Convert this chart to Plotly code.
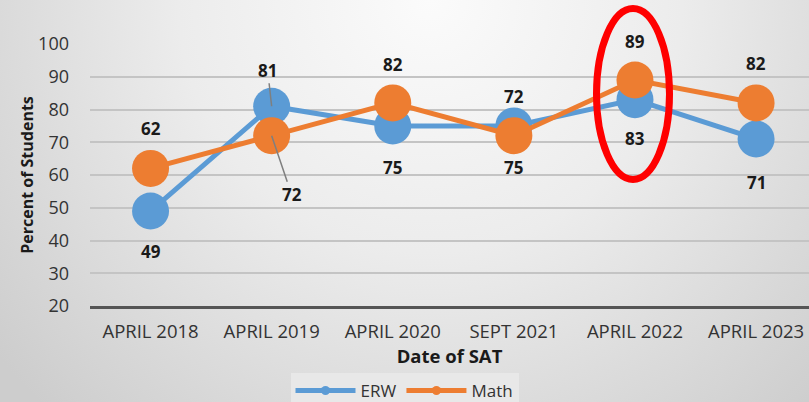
import base64
import plotly.graph_objects as go

categories = ["APRIL 2018", "APRIL 2019", "APRIL 2020", "SEPT 2021", "APRIL 2022", "APRIL 2023"]
erw = [49, 81, 75, 75, 83, 71]
math_vals = [62, 72, 82, 72, 89, 82]
erw_labels = ["49", "81", "75", "75", "83", "71"]
math_labels = ["62", "72", "82", "72", "89", "82"]
y_ticks = [20, 30, 40, 50, 60, 70, 80, 90, 100]

BLUE = "#5B9BD5"
ORANGE = "#ED7D31"
FONT = "Open Sans"

W, H = 809, 402
L, T, B = 90, 44, 96
PW, PH = W - L, H - T - B

svg = f'''<svg xmlns="http://www.w3.org/2000/svg" width="{W}" height="{H}" viewBox="0 0 {W} {H}">
<defs><radialGradient id="g" cx="430" cy="0" r="560" gradientUnits="userSpaceOnUse">
<stop offset="0" stop-color="#fbfbfb"/><stop offset="0.45" stop-color="#ececec"/>
<stop offset="1" stop-color="#cdcdcd"/></radialGradient></defs>
<rect width="{W}" height="{H}" fill="url(#g)"/></svg>'''
src = "data:image/svg+xml;base64," + base64.b64encode(svg.encode()).decode()

fig = go.Figure()
fig.add_trace(go.Scatter(x=categories, y=erw, name="ERW", mode="lines+markers", showlegend=False,
                         line=dict(color=BLUE, width=5), marker=dict(size=37, color=BLUE)))
fig.add_trace(go.Scatter(x=categories, y=math_vals, name="Math", mode="lines+markers", showlegend=False,
                         line=dict(color=ORANGE, width=5), marker=dict(size=37, color=ORANGE)))
for name, col in (("ERW", BLUE), ("Math", ORANGE)):
    fig.add_trace(go.Scatter(x=[None], y=[None], name=name, mode="lines+markers",
                             line=dict(color=col, width=5), marker=dict(size=9, color=col)))

lab_font = dict(family=FONT, size=17, color="#1a1a1a", weight="bold")
erw_off = [(0, 40), (-4, -36), (0, 42), (0, 42), (0, 39), (0, 44)]
math_off = [(0, -40), (20, 59), (0, -38), (0, -39), (0, -39), (0, -39)]
for vals, labels, offs in ((erw, erw_labels, erw_off), (math_vals, math_labels, math_off)):
    for i, (c, v, t) in enumerate(zip(categories, vals, labels)):
        dx, dy = offs[i]
        if i == 1:
            fig.add_annotation(x=c, y=v, text=t, showarrow=True, arrowhead=0, arrowwidth=1.5,
                               arrowcolor="#7f7f7f", ax=dx, ay=dy, standoff=0, font=lab_font)
        else:
            fig.add_annotation(x=c, y=v, text=t, showarrow=False, xshift=dx, yshift=-dy,
                               font=lab_font)

fig.add_shape(type="circle", xref="paper", yref="paper",
              x0=(596.5 - L) / PW, x1=(669.5 - L) / PW,
              y0=(H - B - 179.5) / PH, y1=(H - B - 8.5) / PH,
              line=dict(color="#FF0000", width=7), layer="above")

fig.add_layout_image(dict(source=src, xref="paper", yref="paper", x=-L / PW, y=1 + T / PH,
                          sizex=W / PW, sizey=H / PH, sizing="stretch",
                          xanchor="left", yanchor="top", layer="below"))

fig.update_layout(
    width=W, height=H,
    margin=dict(l=L, r=0, t=T, b=B, autoexpand=False),
    paper_bgcolor="#e3e3e3", plot_bgcolor="rgba(0,0,0,0)",
    font=dict(family=FONT, color="#333333"),
    showlegend=True,
    legend=dict(orientation="h", xref="container", x=0.5, xanchor="center",
                yref="container", y=1 - 373 / H, yanchor="top",
                bgcolor="#e8e8e8", font=dict(size=17, color="#333333"),
                itemwidth=60, tracegroupgap=0),
)
fig.update_xaxes(range=[-0.5, 5.437], showgrid=False, showline=True, linecolor="#555555",
                 linewidth=2.5, ticks="", tickfont=dict(size=18.5, color="#333333"),
                 ticklabelstandoff=7, automargin=False,
                 title=dict(text="<b>Date of SAT</b>", font=dict(size=18.5, color="#1a1a1a"), standoff=8),
                 fixedrange=True)
fig.update_yaxes(range=[20, 100], tickvals=y_ticks,
                 showgrid=True, gridcolor="#c4c4c4", gridwidth=1.5, zeroline=False,
                 tickfont=dict(size=18, color="#333333"), ticklabelstandoff=20,
                 automargin=False,
                 title=dict(text="<b>Percent of Students</b>", font=dict(size=16, color="#1a1a1a"),
                            standoff=0),
                 fixedrange=True)

fig.write_html("out.html", config={"displayModeBar": False},
               post_script="document.body.style.margin='0';document.body.style.overflow='hidden';")
